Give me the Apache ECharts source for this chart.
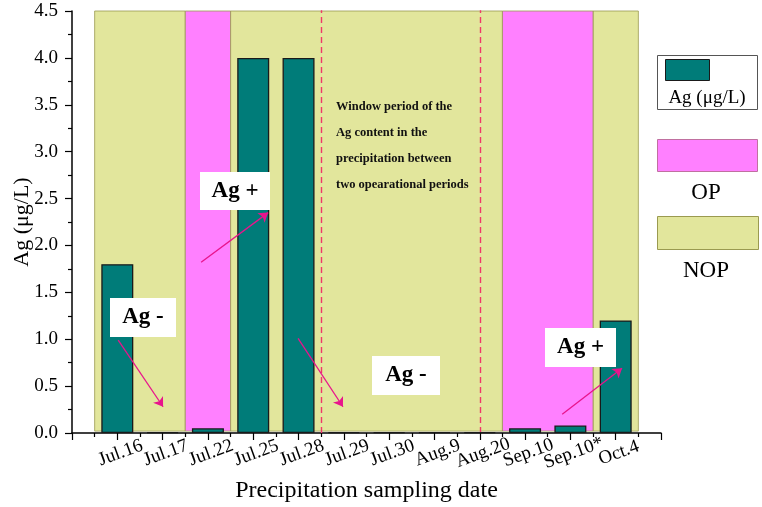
<!DOCTYPE html>
<html>
<head>
<meta charset="utf-8">
<script src="https://cdn.jsdelivr.net/npm/echarts@6/dist/echarts.min.js"></script>
<style>
    html, body { margin: 0; padding: 0; background: #fff; }
    #chart { width: 762px; height: 507px; }
</style>
</head>
<body>
<div id="chart"></div>
<script>
    // sampling dates, placed at x = 1..12
    var dates = ['Jul.16', 'Jul.17', 'Jul.22', 'Jul.25', 'Jul.28', 'Jul.29',
        'Jul.30', 'Aug.9', 'Aug.20', 'Sep.10', 'Sep.10*', 'Oct.4'];
    var agValues = [1.8, 0.01, 0.05, 4.0, 4.0, 0.01, 0.01, 0.01, 0.01, 0.05, 0.08, 1.2];
    var yTicks = ['0.0', '0.5', '1.0', '1.5', '2.0', '2.5', '3.0', '3.5', '4.0', '4.5'];

    // period bands [from, to] on the x scale
    var nopBands = [[0.5, 2.5], [3.5, 9.5], [11.5, 12.5]];
    var opBands = [[2.5, 3.5], [9.5, 11.5]];
    var windowLines = [5.5, 9.0];

    var teal = '#007c79';
    var pink = '#ff80ff';
    var khaki = '#e2e69c';
    var serif = 'Liberation Serif';

    var barData = agValues.map(function (v, i) { return [i + 1, v]; });

    var bandAreas = [];
    nopBands.forEach(function (b) {
        bandAreas.push([{ coord: [b[0], 0.02], itemStyle: { color: khaki } }, { coord: [b[1], 4.535] }]);
    });
    opBands.forEach(function (b) {
        bandAreas.push([{ coord: [b[0], 0.02], itemStyle: { color: pink } }, { coord: [b[1], 4.535] }]);
    });

    var dashLines = windowLines.map(function (x) {
        return { coords: [[x, 0], [x, 4.535]] };
    });

    var arrows = [
        [[2.85, 1.82], [4.33, 2.35]],
        [[1.02, 0.99], [2.01, 0.28]],
        [[4.99, 1.01], [5.98, 0.28]],
        [[10.82, 0.2], [12.14, 0.69]]
    ].map(function (a) {
        return { coords: a };
    });

    function labelBox(x, y, w, h, txt) {
        return [
            { type: 'rect', left: x, top: y, z: 100, shape: { width: w, height: h }, style: { fill: '#fff' } },
            {
                type: 'text', x: x + w / 2, y: y + h / 2, z: 101,
                style: { text: txt, font: 'bold 23px "Liberation Serif"', fill: '#000', align: 'center', verticalAlign: 'middle' }
            }
        ];
    }

    let chart = echarts.init(document.getElementById('chart'));

    let option = {
        animation: false,
        backgroundColor: '#fff',
        grid: { left: 72, top: 11, width: 589, height: 422, containLabel: false, outerBoundsMode: 'none' },
        xAxis: {
            type: 'value',
            min: 0,
            max: 13,
            interval: 1,
            splitLine: { show: false },
            axisLine: { lineStyle: { color: '#000', width: 1.5 } },
            axisTick: { length: 7, lineStyle: { color: '#000', width: 1.2 } },
            minorTick: { show: true, splitNumber: 2, length: 4, lineStyle: { color: '#000', width: 1.2 } },
            axisLabel: {
                rotate: 20,
                align: 'center',
                verticalAlign: 'top',
                margin: 11,
                fontFamily: serif,
                fontSize: 19,
                color: '#000',
                formatter: function (v) {
                    return (v >= 1 && v <= 12) ? dates[v - 1] : '';
                }
            },
            name: 'Precipitation sampling date',
            nameLocation: 'middle',
            nameGap: 46,
            nameMoveOverlap: false,
            nameTextStyle: { fontFamily: serif, fontSize: 24, color: '#000' }
        },
        yAxis: {
            type: 'value',
            min: 0,
            max: 4.5,
            interval: 0.5,
            splitLine: { show: false },
            axisLine: { show: true, lineStyle: { color: '#000', width: 1.5 } },
            axisTick: { show: true, length: 7, lineStyle: { color: '#000', width: 1.2 } },
            minorTick: { show: true, splitNumber: 2, length: 4, lineStyle: { color: '#000', width: 1.2 } },
            axisLabel: {
                margin: 14,
                fontFamily: serif,
                fontSize: 19,
                color: '#000',
                formatter: function (v) { return yTicks[Math.round(v * 2)]; }
            },
            name: 'Ag (μg/L)',
            nameLocation: 'middle',
            nameGap: 39,
            nameMoveOverlap: false,
            nameTextStyle: { fontFamily: serif, fontSize: 22, color: '#000' }
        },
        series: [
            {
                name: 'bands',
                type: 'line',
                data: [],
                clip: false,
                z: 1,
                silent: true,
                markArea: {
                    silent: true,
                    itemStyle: { borderColor: '#9a9a50', borderWidth: 0.8 },
                    data: bandAreas
                }
            },
            {
                name: 'window',
                type: 'lines',
                coordinateSystem: 'cartesian2d',
                z: 3,
                silent: true,
                symbol: 'none',
                lineStyle: { color: '#f0386a', type: [6, 4], width: 1.4, opacity: 1 },
                data: dashLines
            },
            {
                name: 'Ag (μg/L)',
                type: 'bar',
                data: barData,
                barWidth: 32,
                z: 5,
                itemStyle: { color: teal, borderColor: '#1a1a1a', borderWidth: 1.3 }
            },
            {
                name: 'arrows',
                type: 'lines',
                coordinateSystem: 'cartesian2d',
                z: 10,
                silent: true,
                symbol: ['none', 'arrow'],
                symbolSize: 9,
                lineStyle: { color: '#e8148c', width: 1.3, opacity: 1 },
                data: arrows
            }
        ],
        graphic: [].concat(
            [{
                type: 'text', left: 336, top: 94, z: 100,
                style: {
                    text: 'Window period of the\nAg content in the\nprecipitation between\ntwo opearational periods',
                    font: 'bold 12.5px "Liberation Serif"', lineHeight: 26, fill: '#111'
                }
            }],
            labelBox(200, 172, 70, 38, 'Ag +'),
            labelBox(110, 298, 66, 39, 'Ag -'),
            labelBox(372, 356, 68, 39, 'Ag -'),
            labelBox(545, 328, 71, 39, 'Ag +'),
            [
                // legend
                { type: 'rect', left: 657, top: 55, shape: { width: 100, height: 54 }, style: { fill: '#fff', stroke: '#555', lineWidth: 1 } },
                { type: 'rect', left: 665, top: 59, shape: { width: 44, height: 21 }, style: { fill: teal, stroke: '#1a1a1a', lineWidth: 1 } },
                { type: 'text', x: 707, y: 98, style: { text: 'Ag (μg/L)', font: '19px "Liberation Serif"', fill: '#000', align: 'center', verticalAlign: 'middle' } },
                { type: 'rect', left: 657, top: 139, shape: { width: 100, height: 32 }, style: { fill: pink, stroke: '#c070a0', lineWidth: 1 } },
                { type: 'text', x: 706, y: 193, style: { text: 'OP', font: '23px "Liberation Serif"', fill: '#000', align: 'center', verticalAlign: 'middle' } },
                { type: 'rect', left: 657, top: 216, shape: { width: 101, height: 33 }, style: { fill: khaki, stroke: '#9a9a50', lineWidth: 1 } },
                { type: 'text', x: 706, y: 271, style: { text: 'NOP', font: '23px "Liberation Serif"', fill: '#000', align: 'center', verticalAlign: 'middle' } }
            ]
        )
    };
    chart.setOption(option);
</script>
</body>
</html>
